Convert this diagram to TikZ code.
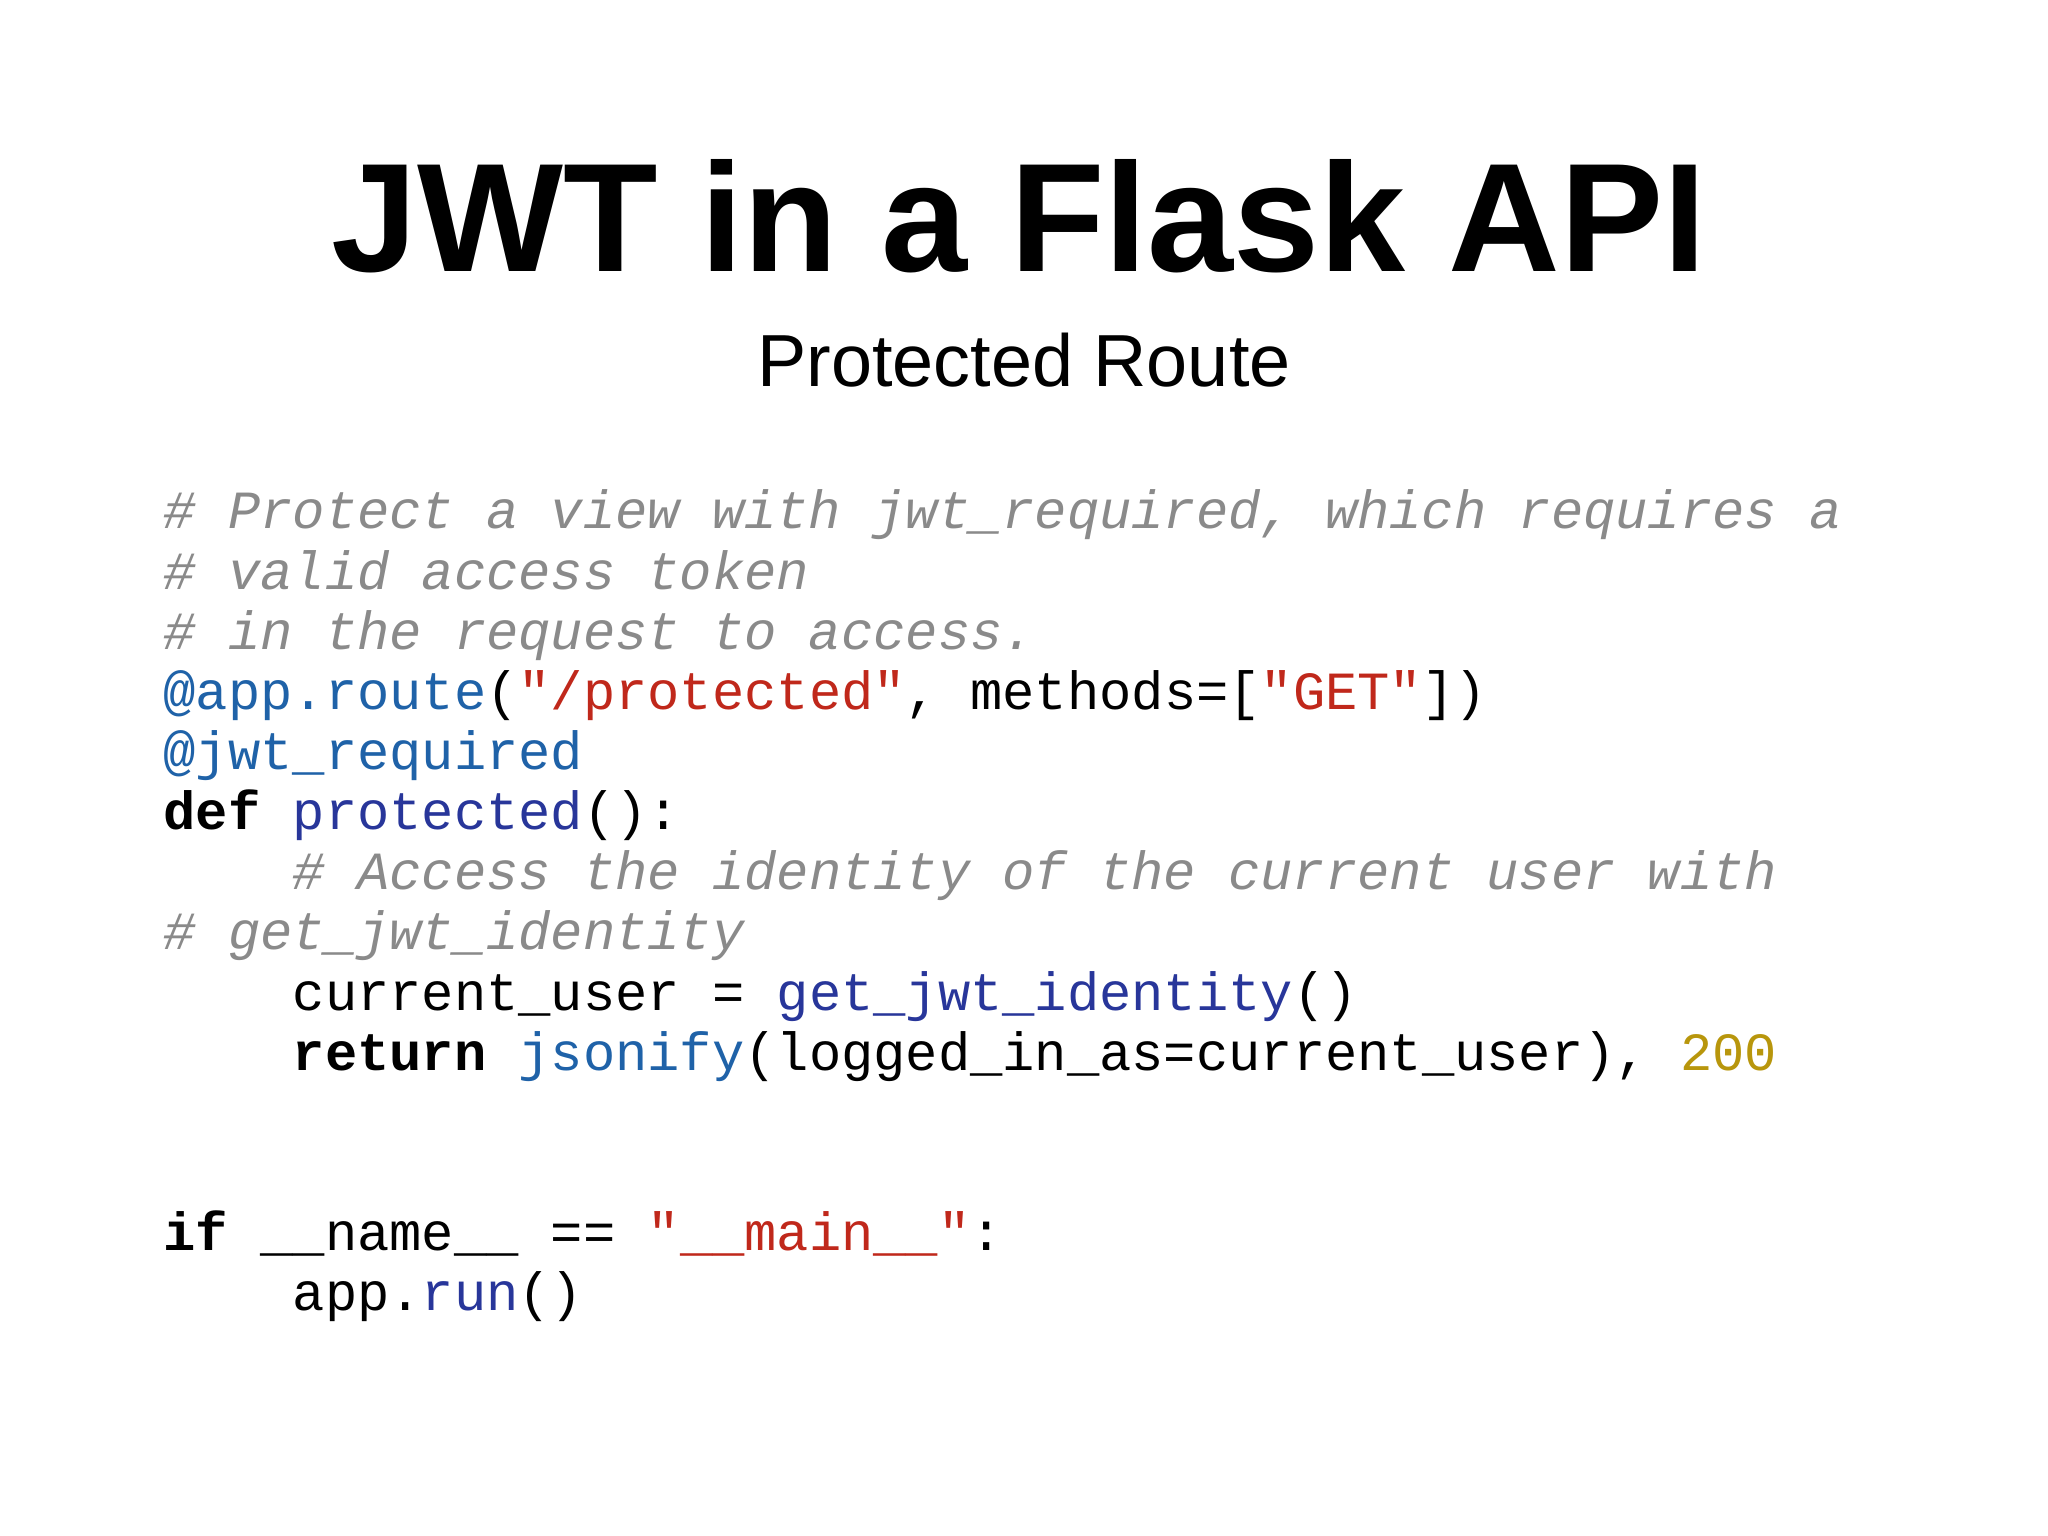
\documentclass[tikz,border=0pt]{standalone}
\usepackage{fontspec}
\setmainfont{Liberation Sans}
\setmonofont{Liberation Mono}
\definecolor{cmt}{HTML}{8A8A8A}
\definecolor{kblue}{HTML}{1F62A8}
\definecolor{knavy}{HTML}{28369A}
\definecolor{kred}{HTML}{C0281B}
\definecolor{kgold}{HTML}{B8960C}
\newcommand{\cm}[1]{{\color{cmt}\itshape #1}}
\newcommand{\bl}[1]{{\color{kblue}#1}}
\newcommand{\nv}[1]{{\color{knavy}#1}}
\newcommand{\rd}[1]{{\color{kred}#1}}
\newcommand{\kw}[1]{{\bfseries #1}}
\newcommand{\ind}{\phantom{xxxx}}
\begin{document}
\begin{tikzpicture}[x=1cm,y=1cm,
  code/.style={anchor=base west,inner sep=0pt,font=\ttfamily\fontsize{15.3pt}{17pt}\selectfont}]
\useasboundingbox (0,0) rectangle (20.48,-15.36);
\fill[white] (0,0) rectangle (20.48,-15.36);
\node[anchor=base,inner sep=0pt,font=\bfseries\fontsize{44pt}{50pt}\selectfont] (title) at (10.19,-2.72) {JWT in a Flask API};
\node[anchor=base,inner sep=0pt,font=\fontsize{21pt}{25pt}\selectfont] (sub) at (10.24,-3.87) {Protected Route};
\node[code] (l1) at (1.63,-5.29) {\cm{\# Protect a view with jwt\_required, which requires a}};
\node[code] (l2) at (1.63,-5.89) {\cm{\# valid access token}};
\node[code] (l3) at (1.63,-6.49) {\cm{\# in the request to access.}};
\node[code] (l4) at (1.63,-7.09) {\bl{@app.route}(\rd{"/protected"}, methods=[\rd{"GET"}])};
\node[code] (l5) at (1.63,-7.69) {\bl{@jwt\_required}};
\node[code] (l6) at (1.63,-8.29) {\kw{def} \nv{protected}():};
\node[code] (l7) at (1.63,-8.89) {\ind\cm{\# Access the identity of the current user with}};
\node[code] (l8) at (1.63,-9.49) {\cm{\# get\_jwt\_identity}};
\node[code] (l9) at (1.63,-10.10) {\ind current\_user = \nv{get\_jwt\_identity}()};
\node[code] (l10) at (1.63,-10.70) {\ind\kw{return} \bl{jsonify}(logged\_in\_as=current\_user), {\color{kgold}200}};
\node[code] (l12) at (1.63,-12.50) {\kw{if} \_\_name\_\_ == \rd{"\_\_main\_\_"}:};
\node[code] (l13) at (1.63,-13.10) {\ind app.\nv{run}()};
\end{tikzpicture}
\end{document}
